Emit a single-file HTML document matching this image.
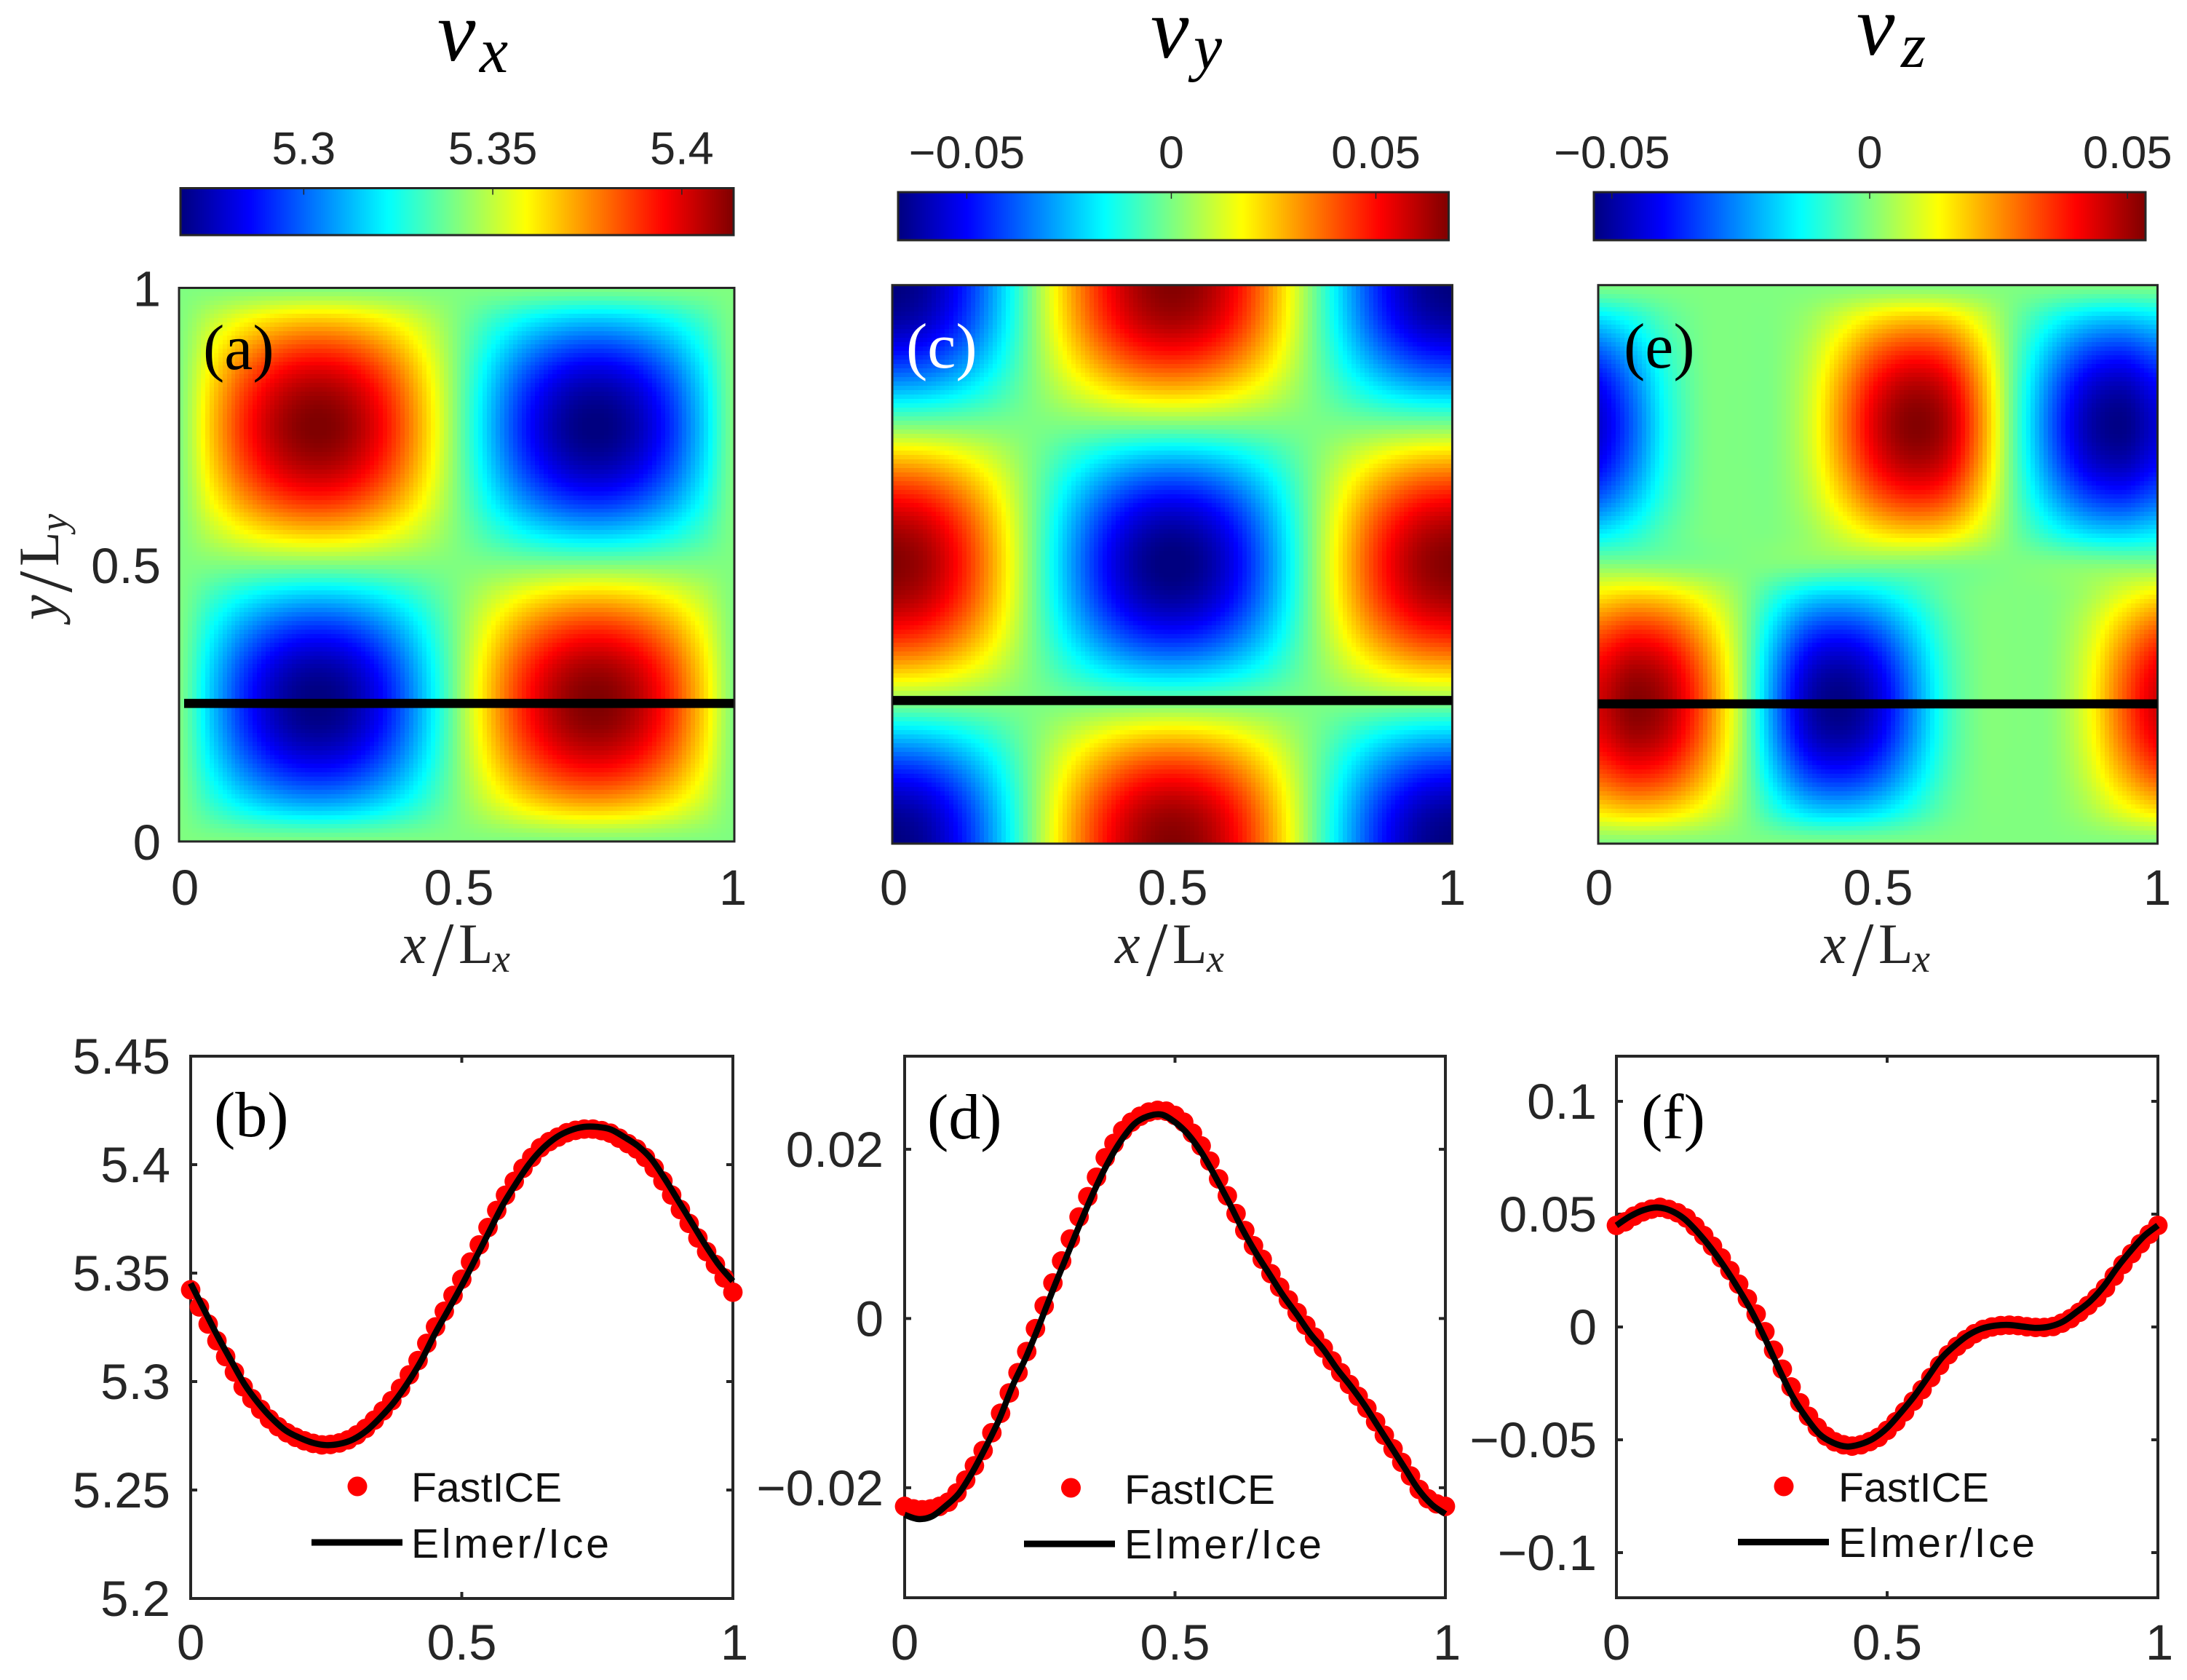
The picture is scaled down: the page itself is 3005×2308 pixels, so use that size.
<!DOCTYPE html>
<html lang="en">
<head>
<meta charset="utf-8">
<title>Velocity fields vx, vy, vz: FastICE and Elmer/Ice</title>
<style>
html,body{margin:0;padding:0;background:#fff;}
svg{display:block;}
text{font-family:"Liberation Sans",sans-serif;fill:#262626;}
.tex{font-family:"Liberation Serif",serif;fill:#000;}
.it{font-style:italic;}
.lab{font-family:"Liberation Serif",serif;fill:#262626;}
.leg{font-size:57px;fill:#111;}
</style>
</head>
<body>
<svg id="fig" xmlns="http://www.w3.org/2000/svg" width="3005" height="2308" viewBox="0 0 3005 2308">
<rect x="0" y="0" width="3005" height="2308" fill="#fff"/>
<g id="charts"></g>

<g>
<text class="tex it" font-size="118"><tspan x="601" y="83">v</tspan><tspan x="659" y="99" font-size="88">x</tspan></text>
<text class="tex it" font-size="118"><tspan x="1581" y="79">v</tspan><tspan x="1640" y="94" font-size="88">y</tspan></text>
<text class="tex it" font-size="118"><tspan x="2551" y="75">v</tspan><tspan x="2612" y="92" font-size="88">z</tspan></text>
</g>

<g>
<text class="lab" font-size="78"><tspan class="it" x="551" y="1323">x</tspan><tspan x="594" y="1340" font-size="106">/</tspan><tspan x="630" y="1323">L</tspan><tspan class="it" x="677" y="1335" font-size="54">x</tspan></text>
<text class="lab" font-size="78"><tspan class="it" x="1532" y="1323">x</tspan><tspan x="1575" y="1340" font-size="106">/</tspan><tspan x="1611" y="1323">L</tspan><tspan class="it" x="1658" y="1335" font-size="54">x</tspan></text>
<text class="lab" font-size="78"><tspan class="it" x="2502" y="1323">x</tspan><tspan x="2545" y="1340" font-size="106">/</tspan><tspan x="2581" y="1323">L</tspan><tspan class="it" x="2628" y="1335" font-size="54">x</tspan></text>
<text class="lab" font-size="78" transform="translate(80 852) rotate(-90)"><tspan class="it" x="0" y="0">y</tspan><tspan x="38" y="18" font-size="106">/</tspan><tspan x="74" y="0">L</tspan><tspan class="it" x="122" y="12" font-size="54">y</tspan></text>
</g>

<g>
<text class="tex" x="279" y="507" font-size="88">(a)</text>
<text class="tex" x="1245" y="505" font-size="88" style="fill:#fff">(c)</text>
<text class="tex" x="2231" y="505" font-size="88">(e)</text>
<text class="tex" x="294" y="1561" font-size="88">(b)</text>
<text class="tex" x="1274" y="1564" font-size="88">(d)</text>
<text class="tex" x="2255" y="1564" font-size="88">(f)</text>
</g>

<g id="legends">
<g>
<circle cx="491" cy="2042" r="13.5" fill="#f00"/>
<text class="leg" x="565" y="2063" textLength="207" lengthAdjust="spacing">FastICE</text>
<rect x="428" y="2114.5" width="125" height="9" fill="#000"/>
<text class="leg" x="565" y="2140" textLength="272" lengthAdjust="spacing">Elmer/Ice</text>
</g>
<g>
<circle cx="1471.5" cy="2044" r="13.5" fill="#f00"/>
<text class="leg" x="1545" y="2066" textLength="207" lengthAdjust="spacing">FastICE</text>
<rect x="1407" y="2116.5" width="125" height="9" fill="#000"/>
<text class="leg" x="1545" y="2141" textLength="271" lengthAdjust="spacing">Elmer/Ice</text>
</g>
<g>
<circle cx="2451" cy="2042" r="13.5" fill="#f00"/>
<text class="leg" x="2526" y="2063" textLength="207" lengthAdjust="spacing">FastICE</text>
<rect x="2388" y="2114" width="125" height="9" fill="#000"/>
<text class="leg" x="2526" y="2139" textLength="270" lengthAdjust="spacing">Elmer/Ice</text>
</g>
</g>
</svg>

<script>
// ---------- heatmap values (rows run y = 0 to 1, columns x = 0 to 1) ----------
const fieldVx = [
[5.3405,5.3405,5.3405,5.3405,5.3405,5.3405,5.3405,5.3405,5.3405,5.3405,5.3405,5.3405,5.3405,5.3405,5.3405,5.3405,5.3405],
[5.3405,5.3297,5.3206,5.3145,5.3123,5.3145,5.3206,5.3297,5.3405,5.3513,5.3604,5.3665,5.3687,5.3665,5.3604,5.3513,5.3405],
[5.3405,5.3206,5.3038,5.2925,5.2885,5.2925,5.3038,5.3206,5.3405,5.3604,5.3772,5.3885,5.3925,5.3885,5.3772,5.3604,5.3405],
[5.3405,5.3145,5.2925,5.2778,5.2726,5.2778,5.2925,5.3145,5.3405,5.3665,5.3885,5.4032,5.4084,5.4032,5.3885,5.3665,5.3405],
[5.3405,5.3123,5.2885,5.2726,5.2670,5.2726,5.2885,5.3123,5.3405,5.3687,5.3925,5.4084,5.4140,5.4084,5.3925,5.3687,5.3405],
[5.3405,5.3145,5.2925,5.2778,5.2726,5.2778,5.2925,5.3145,5.3405,5.3665,5.3885,5.4032,5.4084,5.4032,5.3885,5.3665,5.3405],
[5.3405,5.3206,5.3038,5.2925,5.2885,5.2925,5.3038,5.3206,5.3405,5.3604,5.3772,5.3885,5.3925,5.3885,5.3772,5.3604,5.3405],
[5.3405,5.3297,5.3206,5.3145,5.3123,5.3145,5.3206,5.3297,5.3405,5.3513,5.3604,5.3665,5.3687,5.3665,5.3604,5.3513,5.3405],
[5.3405,5.3405,5.3405,5.3405,5.3405,5.3405,5.3405,5.3405,5.3405,5.3405,5.3405,5.3405,5.3405,5.3405,5.3405,5.3405,5.3405],
[5.3405,5.3513,5.3604,5.3665,5.3687,5.3665,5.3604,5.3513,5.3405,5.3297,5.3206,5.3145,5.3123,5.3145,5.3206,5.3297,5.3405],
[5.3405,5.3604,5.3772,5.3885,5.3925,5.3885,5.3772,5.3604,5.3405,5.3206,5.3038,5.2925,5.2885,5.2925,5.3038,5.3206,5.3405],
[5.3405,5.3665,5.3885,5.4032,5.4084,5.4032,5.3885,5.3665,5.3405,5.3145,5.2925,5.2778,5.2726,5.2778,5.2925,5.3145,5.3405],
[5.3405,5.3687,5.3925,5.4084,5.4140,5.4084,5.3925,5.3687,5.3405,5.3123,5.2885,5.2726,5.2670,5.2726,5.2885,5.3123,5.3405],
[5.3405,5.3665,5.3885,5.4032,5.4084,5.4032,5.3885,5.3665,5.3405,5.3145,5.2925,5.2778,5.2726,5.2778,5.2925,5.3145,5.3405],
[5.3405,5.3604,5.3772,5.3885,5.3925,5.3885,5.3772,5.3604,5.3405,5.3206,5.3038,5.2925,5.2885,5.2925,5.3038,5.3206,5.3405],
[5.3405,5.3513,5.3604,5.3665,5.3687,5.3665,5.3604,5.3513,5.3405,5.3297,5.3206,5.3145,5.3123,5.3145,5.3206,5.3297,5.3405],
[5.3405,5.3405,5.3405,5.3405,5.3405,5.3405,5.3405,5.3405,5.3405,5.3405,5.3405,5.3405,5.3405,5.3405,5.3405,5.3405,5.3405]
];
const fieldVy = [
[-.0675,-.0624,-.0477,-.0259,0,.0259,.0477,.0624,.0675,.0624,.0477,.0259,0,-.0259,-.0477,-.0624,-.0675],
[-.0624,-.0576,-.0441,-.0239,0,.0239,.0441,.0576,.0624,.0576,.0441,.0239,0,-.0239,-.0441,-.0576,-.0624],
[-.0477,-.0441,-.0337,-.0183,0,.0183,.0337,.0441,.0477,.0441,.0337,.0183,0,-.0183,-.0337,-.0441,-.0477],
[-.0259,-.0239,-.0183,-.0099,0,.0099,.0183,.0239,.0259,.0239,.0183,.0099,0,-.0099,-.0183,-.0239,-.0259],
[0,0,0,0,0,0,0,0,0,0,0,0,0,0,0,0,0],
[.0259,.0239,.0183,.0099,0,-.0099,-.0183,-.0239,-.0259,-.0239,-.0183,-.0099,0,.0099,.0183,.0239,.0259],
[.0477,.0441,.0337,.0183,0,-.0183,-.0337,-.0441,-.0477,-.0441,-.0337,-.0183,0,.0183,.0337,.0441,.0477],
[.0624,.0576,.0441,.0239,0,-.0239,-.0441,-.0576,-.0624,-.0576,-.0441,-.0239,0,.0239,.0441,.0576,.0624],
[.0675,.0624,.0477,.0259,0,-.0259,-.0477,-.0624,-.0675,-.0624,-.0477,-.0259,0,.0259,.0477,.0624,.0675],
[.0624,.0576,.0441,.0239,0,-.0239,-.0441,-.0576,-.0624,-.0576,-.0441,-.0239,0,.0239,.0441,.0576,.0624],
[.0477,.0441,.0337,.0183,0,-.0183,-.0337,-.0441,-.0477,-.0441,-.0337,-.0183,0,.0183,.0337,.0441,.0477],
[.0259,.0239,.0183,.0099,0,-.0099,-.0183,-.0239,-.0259,-.0239,-.0183,-.0099,0,.0099,.0183,.0239,.0259],
[0,0,0,0,0,0,0,0,0,0,0,0,0,0,0,0,0],
[-.0259,-.0239,-.0183,-.0099,0,.0099,.0183,.0239,.0259,.0239,.0183,.0099,0,-.0099,-.0183,-.0239,-.0259],
[-.0477,-.0441,-.0337,-.0183,0,.0183,.0337,.0441,.0477,.0441,.0337,.0183,0,-.0183,-.0337,-.0441,-.0477],
[-.0624,-.0576,-.0441,-.0239,0,.0239,.0441,.0576,.0624,.0576,.0441,.0239,0,-.0239,-.0441,-.0576,-.0624],
[-.0675,-.0624,-.0477,-.0259,0,.0259,.0477,.0624,.0675,.0624,.0477,.0259,0,-.0259,-.0477,-.0624,-.0675]
];
const fieldVz = [
[0,0,0,0,0,0,0,0,0,0,0,0,0,0,0,0,0],
[.0172,.0202,.0184,.0119,.0026,-.0094,-.0182,-.0203,-.0171,-.0101,-.0031,0,.0001,.0005,.0044,.0115,.0172],
[.0318,.0373,.0339,.0219,.0047,-.0173,-.0336,-.0375,-.0316,-.0187,-.0058,0,.0001,.0008,.0081,.0212,.0318],
[.0416,.0488,.0444,.0286,.0062,-.0226,-.0439,-.0490,-.0413,-.0245,-.0076,0,.0002,.0011,.0105,.0277,.0416],
[.0450,.0528,.0480,.0310,.0067,-.0245,-.0475,-.0530,-.0447,-.0265,-.0082,0,.0002,.0012,.0114,.0300,.0450],
[.0416,.0488,.0444,.0286,.0062,-.0226,-.0439,-.0490,-.0413,-.0245,-.0076,0,.0002,.0011,.0105,.0277,.0416],
[.0318,.0373,.0339,.0219,.0047,-.0173,-.0336,-.0375,-.0316,-.0187,-.0058,0,.0001,.0008,.0081,.0212,.0318],
[.0172,.0202,.0184,.0119,.0026,-.0094,-.0182,-.0203,-.0171,-.0101,-.0031,0,.0001,.0005,.0044,.0115,.0172],
[0,0,0,0,0,0,0,0,0,0,0,0,0,0,0,0,0],
[-.0172,-.0115,-.0044,-.0005,-.0001,0,.0031,.0101,.0171,.0203,.0182,.0094,-.0026,-.0119,-.0184,-.0202,-.0172],
[-.0318,-.0212,-.0081,-.0008,-.0001,0,.0058,.0187,.0316,.0375,.0336,.0173,-.0047,-.0219,-.0339,-.0373,-.0318],
[-.0416,-.0277,-.0105,-.0011,-.0002,0,.0076,.0245,.0413,.0490,.0439,.0226,-.0062,-.0286,-.0444,-.0488,-.0416],
[-.0450,-.0300,-.0114,-.0012,-.0002,0,.0082,.0265,.0447,.0530,.0475,.0245,-.0067,-.0310,-.0480,-.0528,-.0450],
[-.0416,-.0277,-.0105,-.0011,-.0002,0,.0076,.0245,.0413,.0490,.0439,.0226,-.0062,-.0286,-.0444,-.0488,-.0416],
[-.0318,-.0212,-.0081,-.0008,-.0001,0,.0058,.0187,.0316,.0375,.0336,.0173,-.0047,-.0219,-.0339,-.0373,-.0318],
[-.0172,-.0115,-.0044,-.0005,-.0001,0,.0031,.0101,.0171,.0203,.0182,.0094,-.0026,-.0119,-.0184,-.0202,-.0172],
[0,0,0,0,0,0,0,0,0,0,0,0,0,0,0,0,0]
];

// ---------- colour scale limits and tick values ----------
const colorLimitsVx = [5.2674, 5.4137];
const colorLimitsVy = [-0.0668, 0.0678];
const colorLimitsVz = [-0.0535, 0.0535];
const colorTicksVx = [5.3, 5.35, 5.4];
const colorTickLabelsVx = ["5.3", "5.35", "5.4"];
const colorTicksVy = [-0.05, 0, 0.05];
const colorTickLabelsVy = ["\u22120.05", "0", "0.05"];
const colorTicksVz = [-0.05, 0, 0.05];
const colorTickLabelsVz = ["\u22120.05", "0", "0.05"];

// ---------- section position marked by the black line ----------
const sectionYVx = 0.2493;
const sectionYVy = 0.2562;
const sectionYVz = 0.2502;

// ---------- heatmap axis ticks ----------
const heatTicks = [0, 0.5, 1];
const heatTickLabels = ["0", "0.5", "1"];

// ---------- profile plots: y axis limits and ticks ----------
const limitsB = [5.2, 5.45];
const ticksB = [5.2, 5.25, 5.3, 5.35, 5.4, 5.45];
const tickLabelsB = ["5.2", "5.25", "5.3", "5.35", "5.4", "5.45"];
const limitsD = [-0.033, 0.031];
const ticksD = [-0.02, 0, 0.02];
const tickLabelsD = ["\u22120.02", "0", "0.02"];
const limitsF = [-0.12, 0.12];
const ticksF = [-0.1, -0.05, 0, 0.05, 0.1];
const tickLabelsF = ["\u22120.1", "\u22120.05", "0", "0.05", "0.1"];
const profileXTicks = [0, 0.5, 1];
const profileXTickLabels = ["0", "0.5", "1"];

// ---------- Elmer/Ice line values (evenly spaced over x = 0 to 1) ----------
const elmerB = [5.3453,5.3330,5.3208,5.3095,5.2985,5.2900,5.2830,5.2775,5.2742,5.2718,
5.2707,5.2713,5.2734,5.2775,5.2835,5.2905,5.2993,5.3095,5.3218,5.3330,
5.3443,5.3565,5.3688,5.3811,5.3913,5.4005,5.4076,5.4127,5.4158,5.4174,
5.4174,5.4162,5.4127,5.4086,5.4025,5.3933,5.3831,5.3729,5.3627,5.3535,5.3463];
const elmerD = [-.0232,-.0237,-.0234,-.0222,-.0207,-.0182,-.0152,-.0119,-.0079,-.0045,
-.0006,.0035,.0074,.0113,.0150,.0183,.0210,.0230,.0239,.0241,
.0232,.0217,.0195,.0167,.0137,.0105,.0077,.0052,.0027,.0005,
-.0018,-.0037,-.0060,-.0080,-.0102,-.0127,-.0152,-.0177,-.0202,-.0220,-.0231];
const elmerF = [.0450,.0490,.0518,.0530,.0516,.0480,.0420,.0348,.0264,.0170,
.0067,-.0054,-.0185,-.0307,-.0400,-.0475,-.0513,-.0530,-.0520,-.0494,
-.0447,-.0380,-.0307,-.0223,-.0139,-.0082,-.0036,-.0007,.0006,.0009,
.0002,-.0004,.0002,.0024,.0067,.0114,.0180,.0264,.0338,.0404,.0450];

// ---------- FastICE marker values (63 evenly spaced points over x = 0 to 1) ----------
const fasticeB = [5.3423,5.3344,5.3265,5.3188,5.3115,5.3044,5.2976,5.2921,5.2872,5.2827,
5.2792,5.2764,5.2743,5.2727,5.2715,5.2708,5.2710,5.2717,5.2731,5.2754,
5.2784,5.2822,5.2865,5.2912,5.2969,5.3031,5.3097,5.3176,5.3252,5.3324,
5.3397,5.3472,5.3551,5.3630,5.3710,5.3789,5.3859,5.3923,5.3983,5.4033,
5.4078,5.4106,5.4127,5.4147,5.4158,5.4164,5.4164,5.4157,5.4145,5.4122,
5.4097,5.4072,5.4033,5.3985,5.3925,5.3860,5.3793,5.3729,5.3662,5.3599,
5.3540,5.3478,5.3412];
const fasticeD = [-.0222,-.0225,-.0226,-.0225,-.0222,-.0217,-.0206,-.0191,-.0174,-.0156,
-.0135,-.0112,-.0088,-.0064,-.0039,-.0012,.0015,.0042,.0068,.0094,
.0120,.0144,.0167,.0190,.0207,.0222,.0232,.0239,.0244,.0246,
.0245,.0240,.0232,.0219,.0204,.0186,.0165,.0145,.0124,.0104,
.0086,.0070,.0053,.0037,.0022,.0007,-.0008,-.0022,-.0035,-.0050,
-.0064,-.0078,-.0092,-.0106,-.0122,-.0138,-.0154,-.0170,-.0186,-.0202,
-.0213,-.0219,-.0222];
const fasticeF = [.0450,.0466,.0491,.0510,.0522,.0530,.0521,.0506,.0483,.0446,
.0405,.0358,.0306,.0250,.0190,.0125,.0057,-.0021,-.0103,-.0187,
-.0266,-.0336,-.0396,-.0445,-.0484,-.0509,-.0522,-.0528,-.0522,-.0508,
-.0489,-.0458,-.0420,-.0376,-.0329,-.0278,-.0224,-.0170,-.0123,-.0086,
-.0056,-.0030,-.0011,0,.0006,.0008,.0006,.0001,-.0002,-.0002,
.0002,.0017,.0037,.0065,.0095,.0130,.0173,.0225,.0277,.0325,
.0369,.0411,.0450];

// ---------- drawing ----------
const NS = "http://www.w3.org/2000/svg";
const root = document.getElementById("charts");
const AXIS = "#262626";

function jet(t) {
  t = Math.max(0, Math.min(1, t));
  const ch = (c) => Math.round(255 * Math.max(0, Math.min(1, 1.5 - Math.abs(4 * t - c))));
  return "rgb(" + ch(3) + "," + ch(2) + "," + ch(1) + ")";
}
function cr(p0, p1, p2, p3, t) {
  return 0.5 * (2 * p1 + (p2 - p0) * t + (2 * p0 - 5 * p1 + 4 * p2 - p3) * t * t + (3 * p1 - p0 - 3 * p2 + p3) * t * t * t);
}
function sampleField(rows, u, v) {
  const nr = rows.length, nc = rows[0].length;
  const fx = u * (nc - 1), fy = v * (nr - 1);
  const ix = Math.min(nc - 2, Math.floor(fx)), iy = Math.min(nr - 2, Math.floor(fy));
  const tx = fx - ix, ty = fy - iy;
  const col = [];
  for (let j = -1; j <= 2; j++) {
    const r = rows[Math.max(0, Math.min(nr - 1, iy + j))];
    const at = (k) => r[Math.max(0, Math.min(nc - 1, ix + k))];
    col.push(cr(at(-1), at(0), at(1), at(2), tx));
  }
  return cr(col[0], col[1], col[2], col[3], ty);
}
function addText(parent, str, x, y, size, anchor, name) {
  const el = document.createElementNS(NS, "text");
  el.setAttribute("x", x);
  el.setAttribute("y", y);
  el.setAttribute("font-size", size);
  el.setAttribute("text-anchor", anchor);
  
  
  el.textContent = str;
  parent.appendChild(el);
  return el;
}
function addLine(parent, x1, y1, x2, y2, w, name) {
  const el = document.createElementNS(NS, "line");
  el.setAttribute("x1", x1);
  el.setAttribute("y1", y1);
  el.setAttribute("x2", x2);
  el.setAttribute("y2", y2);
  el.setAttribute("stroke", AXIS);
  el.setAttribute("stroke-width", w);
  
  
  parent.appendChild(el);
  return el;
}
function addFrame(parent, l, t, r, b, w, name) {
  const el = document.createElementNS(NS, "rect");
  el.setAttribute("x", l);
  el.setAttribute("y", t);
  el.setAttribute("width", r - l);
  el.setAttribute("height", b - t);
  el.setAttribute("fill", "none");
  el.setAttribute("stroke", AXIS);
  el.setAttribute("stroke-width", w);
  
  
  parent.appendChild(el);
  return el;
}
function addGroup(name) {
  const el = document.createElementNS(NS, "g");
  
  
  root.appendChild(el);
  return el;
}

function drawHeatmap(cfg, rows, limits, sectionY) {
  const g = addGroup("heatmap-" + cfg.id);
  const n = 128;
  const xs = (u) => cfg.l + u * (cfg.r - cfg.l);
  const ys = (v) => cfg.b - v * (cfg.b - cfg.t);
  const color = (val) => jet((val - limits[0]) / (limits[1] - limits[0]));
  for (let j = 0; j < n; j++) {
    for (let i = 0; i < n; i++) {
      const val = sampleField(rows, (i + 0.5) / n, (j + 0.5) / n);
      const x0 = Math.round(xs(i / n)), x1 = Math.round(xs((i + 1) / n));
      const y0 = Math.round(ys((j + 1) / n)), y1 = Math.round(ys(j / n));
      const el = document.createElementNS(NS, "rect");
      el.setAttribute("x", x0);
      el.setAttribute("y", y0);
      el.setAttribute("width", x1 - x0);
      el.setAttribute("height", y1 - y0);
      el.setAttribute("fill", color(val));
      el.setAttribute("shape-rendering", "crispEdges");
      
      
      g.appendChild(el);
    }
  }
  addFrame(g, cfg.l, cfg.t, cfg.r, cfg.b, 3, "heatmap-frame-" + cfg.id);
  const sec = document.createElementNS(NS, "line");
  sec.setAttribute("x1", cfg.secL);
  sec.setAttribute("x2", cfg.secR);
  sec.setAttribute("y1", ys(sectionY));
  sec.setAttribute("y2", ys(sectionY));
  sec.setAttribute("stroke", "#000");
  sec.setAttribute("stroke-width", 12.5);
  
  
  g.appendChild(sec);
  heatTicks.forEach((tv, k) => {
    addText(g, heatTickLabels[k], cfg.xl + tv * (cfg.xr - cfg.xl), 1243, 69, "middle", "x-tick-label-" + cfg.id);
  });
  if (cfg.yLabels) {
    heatTicks.forEach((tv, k) => {
      addText(g, heatTickLabels[k], 221, ys(tv) + 25, 69, "end", "y-tick-label-" + cfg.id);
    });
  }
}

function drawColorbar(cfg, limits, ticks, labels) {
  const g = addGroup("colorbar-" + cfg.id);
  const n = 256;
  const xs = (v) => cfg.l + (v - limits[0]) / (limits[1] - limits[0]) * (cfg.r - cfg.l);
  for (let i = 0; i < n; i++) {
    const x0 = cfg.l + i / n * (cfg.r - cfg.l), x1 = cfg.l + (i + 1) / n * (cfg.r - cfg.l);
    const el = document.createElementNS(NS, "rect");
    el.setAttribute("x", x0);
    el.setAttribute("y", cfg.t);
    el.setAttribute("width", x1 - x0 + 0.6);
    el.setAttribute("height", cfg.b - cfg.t);
    el.setAttribute("fill", jet((i + 0.5) / n));
    
    
    g.appendChild(el);
  }
  addFrame(g, cfg.l, cfg.t, cfg.r, cfg.b, 3, "colorbar-frame-" + cfg.id);
  ticks.forEach((tv, k) => {
    const x = xs(tv);
    addLine(g, x, cfg.t, x, cfg.t + 9, 1.5, "colorbar-tick-" + cfg.id);
    addText(g, labels[k], x, cfg.lab, 63, "middle", "colorbar-tick-label-" + cfg.id);
  });
}

function smoothPath(pts) {
  let d = "M" + pts[0][0].toFixed(2) + " " + pts[0][1].toFixed(2);
  for (let i = 0; i < pts.length - 1; i++) {
    const p0 = pts[Math.max(0, i - 1)], p1 = pts[i], p2 = pts[i + 1], p3 = pts[Math.min(pts.length - 1, i + 2)];
    const c1x = p1[0] + (p2[0] - p0[0]) / 6, c1y = p1[1] + (p2[1] - p0[1]) / 6;
    const c2x = p2[0] - (p3[0] - p1[0]) / 6, c2y = p2[1] - (p3[1] - p1[1]) / 6;
    d += "C" + c1x.toFixed(2) + " " + c1y.toFixed(2) + " " + c2x.toFixed(2) + " " + c2y.toFixed(2) + " " + p2[0].toFixed(2) + " " + p2[1].toFixed(2);
  }
  return d;
}

function drawProfile(cfg, limits, ticks, labels, markers, line) {
  const g = addGroup("profile-plot-" + cfg.id);
  const xs = (u) => cfg.l + u * (cfg.r - cfg.l);
  const ys = (v) => cfg.b - (v - limits[0]) / (limits[1] - limits[0]) * (cfg.b - cfg.t);
  addFrame(g, cfg.l, cfg.t, cfg.r, cfg.b, 4, "plot-frame-" + cfg.id);
  ticks.forEach((tv, k) => {
    const y = ys(tv);
    addLine(g, cfg.l, y, cfg.l + 9, y, 4, "y-tick-left-" + cfg.id);
    addLine(g, cfg.r, y, cfg.r - 9, y, 4, "y-tick-right-" + cfg.id);
    addText(g, labels[k], cfg.yLab, y + 24, 69, "end", "y-tick-label-" + cfg.id);
  });
  profileXTicks.forEach((tv, k) => {
    const x = xs(tv);
    addLine(g, x, cfg.b, x, cfg.b - 9, 4, "x-tick-bottom-" + cfg.id);
    addLine(g, x, cfg.t, x, cfg.t + 9, 4, "x-tick-top-" + cfg.id);
    addText(g, profileXTickLabels[k], x + (tv === 1 ? 2 : 0), 2280, 69, "middle", "x-tick-label-" + cfg.id);
  });
  markers.forEach((val, i) => {
    const el = document.createElementNS(NS, "circle");
    el.setAttribute("cx", xs(i / (markers.length - 1)));
    el.setAttribute("cy", ys(val));
    el.setAttribute("r", 13.4);
    el.setAttribute("fill", "#f00");
    
    
    g.appendChild(el);
  });
  const pts = line.map((val, i) => [xs(i / (line.length - 1)), ys(val)]);
  const path = document.createElementNS(NS, "path");
  path.setAttribute("d", smoothPath(pts));
  path.setAttribute("fill", "none");
  path.setAttribute("stroke", "#000");
  path.setAttribute("stroke-width", 8.5);
  path.setAttribute("stroke-linejoin", "round");
  
  
  g.appendChild(path);
}

drawColorbar({id:"vx", l:248, r:1008, t:258.5, b:323, lab:225.5}, colorLimitsVx, colorTicksVx, colorTickLabelsVx);
drawColorbar({id:"vy", l:1234, r:1990.5, t:264, b:330, lab:231}, colorLimitsVy, colorTicksVy, colorTickLabelsVy);
drawColorbar({id:"vz", l:2190, r:2948, t:264, b:330, lab:231}, colorLimitsVz, colorTicksVz, colorTickLabelsVz);

drawHeatmap({id:"a", l:246, r:1009, t:395.5, b:1156, secL:253, secR:1008, xl:254, xr:1007, yLabels:true}, fieldVx, colorLimitsVx, sectionYVx);
drawHeatmap({id:"c", l:1226, r:1995.5, t:391.7, b:1159, secL:1227, secR:1995, xl:1228, xr:1995, yLabels:false}, fieldVy, colorLimitsVy, sectionYVy);
drawHeatmap({id:"e", l:2196, r:2964.5, t:391.7, b:1159, secL:2196, secR:2964, xl:2197, xr:2964, yLabels:false}, fieldVz, colorLimitsVz, sectionYVz);

drawProfile({id:"b", l:262, r:1007, t:1451, b:2196, yLab:234}, limitsB, ticksB, tickLabelsB, fasticeB, elmerB);
drawProfile({id:"d", l:1243, r:1986, t:1451, b:2195, yLab:1214}, limitsD, ticksD, tickLabelsD, fasticeD, elmerD);
drawProfile({id:"f", l:2221, r:2965, t:1451, b:2195, yLab:2194}, limitsF, ticksF, tickLabelsF, fasticeF, elmerF);
</script>
</body>
</html>
